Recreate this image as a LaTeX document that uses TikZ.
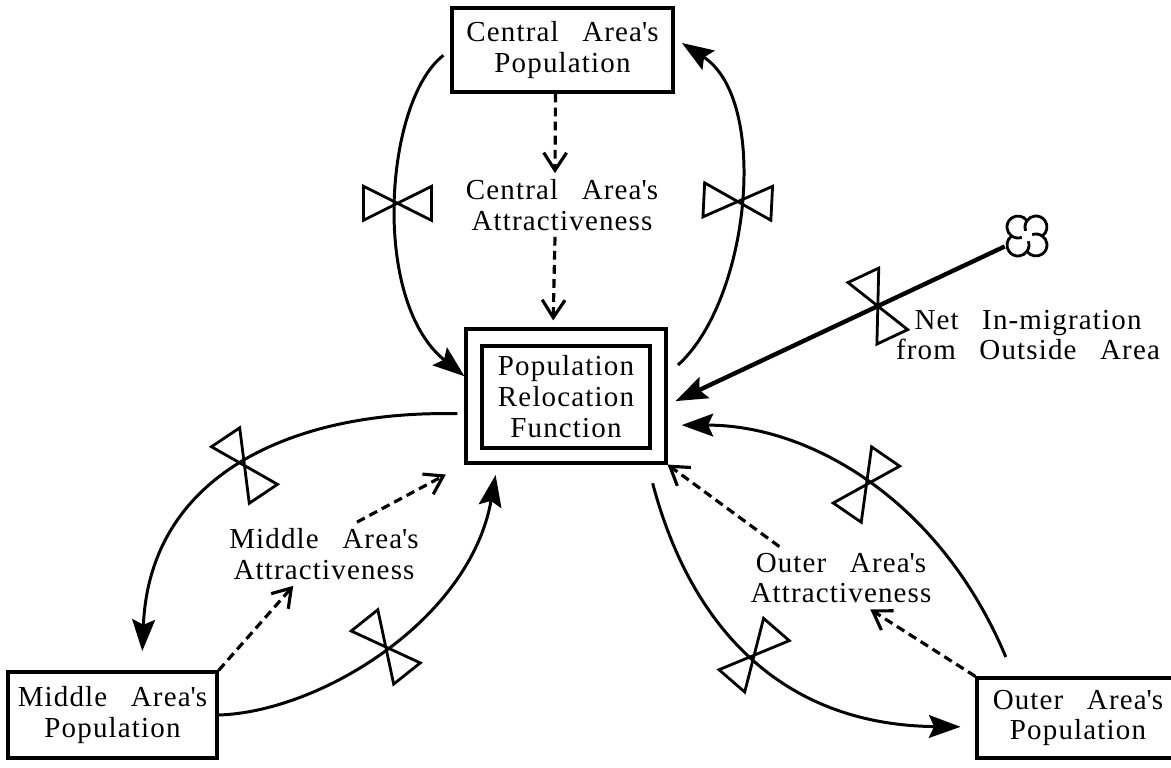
\documentclass[tikz,border=0pt]{standalone}
\usepackage{fontspec}
\setmainfont{Liberation Serif}[LetterSpace=4,WordSpace=2.8]
\usetikzlibrary{arrows.meta}

\begin{document}
\begin{tikzpicture}[x=0.02cm, y=-0.02cm,
        every node/.style={font=\fontsize{16.5}{17.6}\selectfont, align=center},
        stock/.style={draw, line width=1.8pt, inner sep=0pt},
        flow/.style={line width=1.7pt, -{Stealth[length=18pt, width=13pt, inset=3pt]}},
        info/.style={line width=1.8pt, dash pattern=on 5pt off 3pt, -{Straight Barb[length=10pt, width=13pt]}},
        valve/.pic={\draw[-, solid, line width=1.6pt, shorten <=0pt, shorten >=0pt] (0,0) -- (-17,34) -- (17,34) -- cycle (0,0) -- (-17,-34) -- (17,-34) -- cycle;}]
            \useasboundingbox (0,0) rectangle (1171,768);
            % stocks
            \node[stock, minimum width=4.42cm, minimum height=1.68cm] (cpop) at (562.5,50) {Central Area\textquotesingle s\\Population};
            \node[stock, minimum width=4.18cm, minimum height=1.72cm] (mpop) at (112.5,715) {Middle Area\textquotesingle s\\Population};
            \node[stock, minimum width=4.04cm, minimum height=1.6cm] (opop) at (1078,718) {Outer Area\textquotesingle s\\Population};
            \node[stock, minimum width=3.36cm, minimum height=2.04cm] (prf) at (566,397) {Population\\Relocation\\Function};
            \node[stock, minimum width=4cm, minimum height=2.68cm] (prfout) at (566,396) {};
            % attractiveness
            \node (catt) at (562,205) {Central Area\textquotesingle s\\Attractiveness};
            \node (matt) at (324,554) {Middle Area\textquotesingle s\\Attractiveness};
            \node (oatt) at (841,578) {Outer Area\textquotesingle s\\Attractiveness};
            \node (netin) at (1028,335) {Net In-migration\\from Outside Area};
            % cloud
            \coordinate (cloud) at (1027,236);
            \begin{scope}[shift={(cloud)}, y=0.02cm, line width=1.6pt]
                \draw (15.3,0) arc[start angle=-55, end angle=145, radius=11] arc[start angle=35, end angle=235, radius=11]
                    arc[start angle=125, end angle=325, radius=11] arc[start angle=215, end angle=415, radius=11] -- cycle;
                \draw (0,15.3) arc[start angle=145, end angle=200, radius=11];
                \draw (-15.3,0) arc[start angle=235, end angle=290, radius=11];
                \draw (0,-15.3) arc[start angle=325, end angle=380, radius=11];
                \draw (15.3,0) arc[start angle=55, end angle=110, radius=11];
            \end{scope}

            \draw[info] ([xshift=-0.14cm]cpop.south) -- ([xshift=-0.14cm]catt.north);
            \draw[info, shorten >=4pt] ([xshift=-0.14cm]catt.south) -- ([xshift=-0.26cm]prfout.north);
            \draw[info] (mpop.north east) -- (matt.226);
            \draw[info, shorten >=12pt] (matt.44) -- (prfout.south west);
            \draw[info] (opop.north west) -- (oatt.313);
            \draw[info] (oatt.153) -- (prfout.south east);

            \draw[flow, shorten <=5pt] (cpop.west) .. controls (385,100) and (370,300) .. (prfout.169) pic[pos=0.5, sloped]{valve};
            \draw[flow, shorten <=8pt, shorten >=5pt] (prfout.12) .. controls (750,300) and (770,100) .. (cpop.6) pic[pos=0.5, sloped]{valve};
            \draw[flow, line width=2.5pt, shorten <=14pt, shorten >=5pt] (cloud) -- (prfout.-5) pic[pos=0.415, sloped]{valve};
            \draw[flow, shorten <=4pt, shorten >=11pt] (prfout.190) .. controls (300,410) and (150,470) .. (mpop.57) pic[pos=0.5, sloped]{valve};
            \draw[flow, shorten >=6pt] (mpop.east) .. controls (320,712) and (470,620) .. (prfout.225) pic[pos=0.5, sloped]{valve};
            \draw[flow, shorten <=11pt, shorten >=8.5pt] (prfout.-40) .. controls (690,625) and (780,725) .. (opop.185) pic[pos=0.5, sloped]{valve};
            \draw[flow, shorten <=12pt, shorten >=8pt] (opop.147) .. controls (940,500) and (810,425) .. (prfout.-16) pic[pos=0.5, sloped]{valve};
        \end{tikzpicture}
\end{document}
